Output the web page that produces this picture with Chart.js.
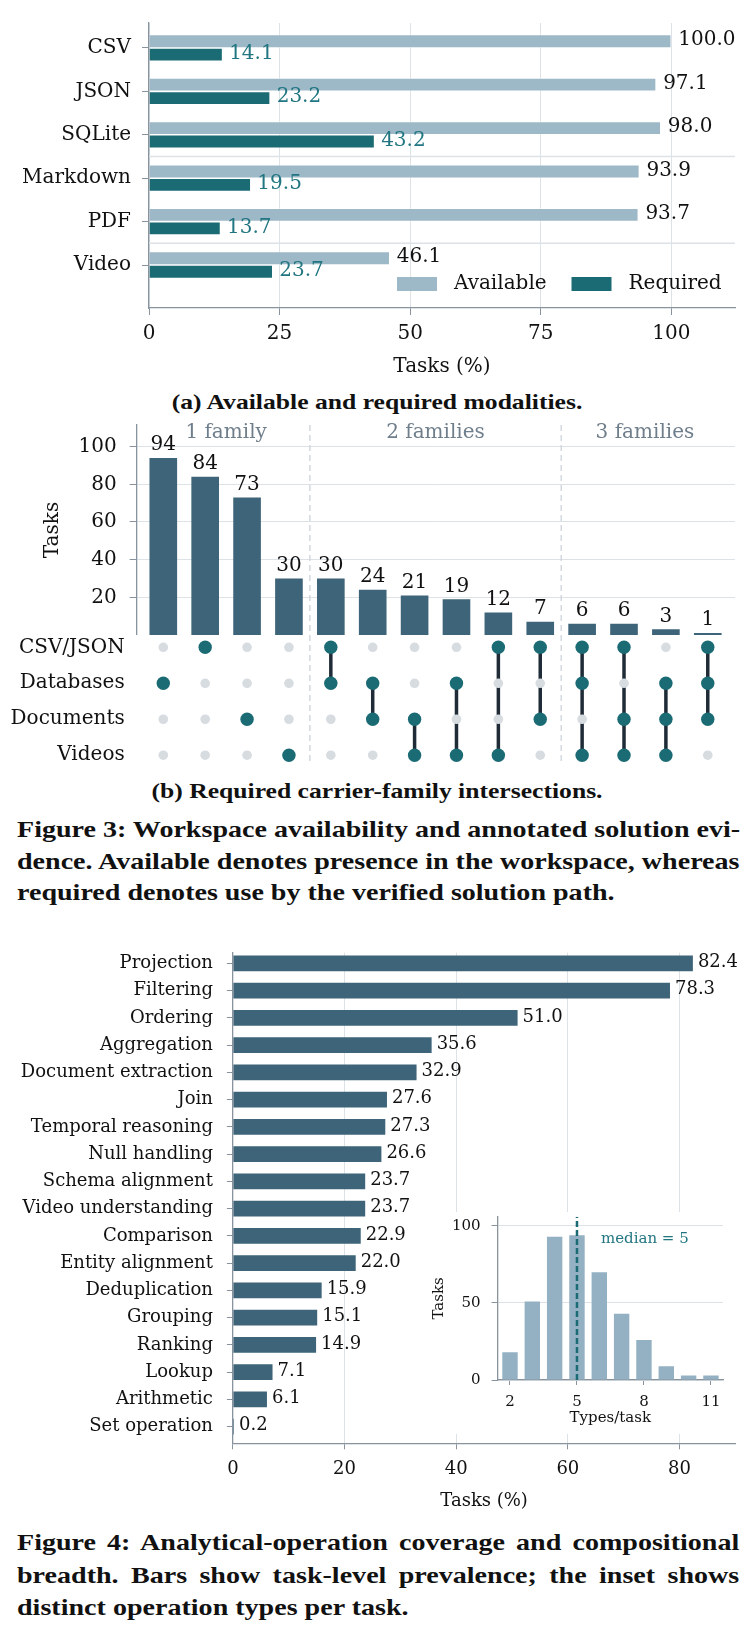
<!DOCTYPE html>
<html>
<head>
<meta charset="utf-8">
<script src="https://cdn.jsdelivr.net/npm/chart.js@4.4.1/dist/chart.umd.min.js"></script>
<style>
body { margin: 0; background: #fff; }
#page { position: relative; width: 754px; height: 1634px; overflow: hidden; background: #fff; }
canvas { position: absolute; }
.cap { position: absolute; font-family: "Liberation Serif", serif; font-weight: bold; color: #111; }
.sub { left: 0; width: 754px; text-align: center; font-size: 21px; transform: scaleX(1.22); transform-origin: 377px 0; }
.main { left: 17px; width: 592px; font-size: 23px; transform: scaleX(1.22); transform-origin: 0 0; }
.line { white-space: nowrap; text-align: justify; text-align-last: justify; }
.line.last { text-align-last: left; }
</style>
</head>
<body>
<div id="page">
  <canvas id="modal" width="754" height="380" style="left:0;top:0"></canvas>
  <div class="cap sub" style="top:390px">(a) Available and required modalities.</div>
  <canvas id="upset" width="754" height="235" style="left:0;top:400px"></canvas>
  <canvas id="matrix" width="754" height="130" style="left:0;top:635px"></canvas>
  <div class="cap sub" style="top:779px">(b) Required carrier-family intersections.</div>
  <div class="cap main" style="top:814px;line-height:31.6px">
    <div class="line">Figure 3: Workspace availability and annotated solution evi-</div>
    <div class="line">dence. Available denotes presence in the workspace, whereas</div>
    <div class="line last">required denotes use by the verified solution path.</div>
  </div>
  <canvas id="ops" width="754" height="575" style="left:0;top:940px"></canvas>
  <canvas id="inset" width="305" height="222" style="left:430px;top:1212px;background:#fff"></canvas>
  <div class="cap main" style="top:1527px;line-height:32.6px">
    <div class="line">Figure 4: Analytical-operation coverage and compositional</div>
    <div class="line">breadth. Bars show task-level prevalence; the inset shows</div>
    <div class="line last">distinct operation types per task.</div>
  </div>
</div>
<script>
// ---- data ----
const modalities = ['CSV', 'JSON', 'SQLite', 'Markdown', 'PDF', 'Video'];
const modalityFamily = ['structured', 'structured', 'structured', 'document', 'document', 'video'];
const availablePct = [100.0, 97.1, 98.0, 93.9, 93.7, 46.1];
const requiredPct = [14.1, 23.2, 43.2, 19.5, 13.7, 23.7];

const families = ['CSV/JSON', 'Databases', 'Documents', 'Videos'];
const intersectionCounts = [94, 84, 73, 30, 30, 24, 21, 19, 12, 7, 6, 6, 3, 1];
// indexes into families for each intersection column
const intersectionMembers = [[1], [0], [2], [3], [0, 1], [1, 2], [2, 3], [1, 3], [0, 3], [0, 2], [0, 1, 3], [0, 2, 3], [1, 2, 3], [0, 1, 2]];
const groupNames = ['1 family', '2 families', '3 families'];

const operations = ['Projection', 'Filtering', 'Ordering', 'Aggregation', 'Document extraction', 'Join',
  'Temporal reasoning', 'Null handling', 'Schema alignment', 'Video understanding', 'Comparison',
  'Entity alignment', 'Deduplication', 'Grouping', 'Ranking', 'Lookup', 'Arithmetic', 'Set operation'];
const operationPct = [82.4, 78.3, 51.0, 35.6, 32.9, 27.6, 27.3, 26.6, 23.7, 23.7, 22.9, 22.0, 15.9, 15.1, 14.9, 7.1, 6.1, 0.2];

const typesPerTask = [2, 3, 4, 5, 6, 7, 8, 9, 10, 11];
const typesCounts = [18, 51, 93, 94, 70, 43, 26, 9, 3, 3];
const medianTypes = 5;

// ---- colours ----
const LIGHT = '#9db8c7';
const TEAL = '#1a6b74';
const TEAL_TXT = '#217681';
const SLATE = '#3e6479';
const INSET_BAR = '#93b1c3';
const GRID = '#dde2e7';
const AXIS = '#88939d';
const DOT_GRAY = '#d7dce1';
const LINK = '#1f2c37';
const GROUP_TXT = '#6f7e8b';
const FONT = "'DejaVu Serif', serif";

Chart.defaults.font.family = FONT;
Chart.defaults.color = '#111';
Chart.defaults.animation = false;
Chart.defaults.responsive = false;
Chart.defaults.devicePixelRatio = 1;
Chart.defaults.layout.autoPadding = false;
Chart.defaults.plugins.legend.display = false;
Chart.defaults.plugins.tooltip.enabled = false;

// fixed axis sizes so the plot areas line up with the figure
function fixWidth(w) {
  return s => { s.width = w; s.paddingTop = 0; s.paddingBottom = 0; };
}
function fixHeight(h) {
  return s => { s.height = h; s.paddingLeft = 0; s.paddingRight = 0; };
}

// draws value text next to bars
const valueLabels = {
  id: 'valueLabels',
  afterDatasetsDraw(chart, args, opts) {
    const ctx = chart.ctx;
    ctx.save();
    (opts.items || []).forEach(it => {
      const meta = chart.getDatasetMeta(it.dataset);
      const vals = it.values;
      ctx.font = it.font;
      ctx.fillStyle = it.color;
      ctx.textAlign = it.align;
      ctx.textBaseline = it.baseline;
      meta.data.forEach((el, i) => {
        ctx.fillText(it.format(vals[i]), el.x + it.dx, el.y + it.dy);
      });
    });
    ctx.restore();
  }
};

// dashed lines between the family groups
function groupBounds() {
  let b = [];
  for (let i = 1; i < intersectionMembers.length; i++) {
    if (intersectionMembers[i].length !== intersectionMembers[i - 1].length) b.push(i - 0.5);
  }
  return b;
}
const separators = {
  id: 'separators',
  beforeDatasetsDraw(chart) {
    const {ctx, chartArea: a, scales: {x}} = chart;
    ctx.save();
    ctx.strokeStyle = '#ccd3da';
    ctx.lineWidth = 1.3;
    ctx.setLineDash([6, 4]);
    groupBounds().forEach(v => {
      const px = x.getPixelForValue(v);
      ctx.beginPath();
      ctx.moveTo(px, a.top);
      ctx.lineTo(px, a.bottom);
      ctx.stroke();
    });
    ctx.restore();
  }
};

// ---------- (a) modalities ----------
new Chart(document.getElementById('modal'), {
  type: 'bar',
  data: {
    datasets: [
      {label: 'Available', data: availablePct.map((v, i) => ({x: v, y: i})), backgroundColor: LIGHT, borderColor: 'rgba(255,255,255,0.7)', borderWidth: 0.8},
      {label: 'Required', data: requiredPct.map((v, i) => ({x: v, y: i})), backgroundColor: TEAL, borderColor: 'rgba(255,255,255,0.7)', borderWidth: 0.8}
    ]
  },
  options: {
    indexAxis: 'y',
    layout: {padding: {left: 0, right: 19, top: 23, bottom: 0}},
    datasets: {bar: {categoryPercentage: 0.62, barPercentage: 1}},
    plugins: {
      valueLabels: {items: [
        {dataset: 0, values: availablePct, format: v => v.toFixed(1), font: '20px ' + FONT, color: '#111', align: 'left', baseline: 'middle', dx: 7, dy: -1},
        {dataset: 1, values: requiredPct, format: v => v.toFixed(1), font: '20px ' + FONT, color: TEAL_TXT, align: 'left', baseline: 'middle', dx: 6.5, dy: -1}
      ]}
    },
    scales: {
      x: {
        type: 'linear', min: 0, max: 112.2,
        ticks: {stepSize: 25, includeBounds: false, padding: 7, font: {size: 20}, color: '#111', maxRotation: 0},
        grid: {color: GRID, tickColor: AXIS, tickLength: 7},
        border: {color: AXIS, width: 1.3},
        title: {display: true, text: 'Tasks (%)', font: {size: 20}, color: '#111', padding: {top: 0, bottom: 1}},
        afterFit: fixHeight(72)
      },
      y: {
        type: 'linear', reverse: true, min: -0.575, max: 5.99, offset: false,
        afterBuildTicks: s => { s.ticks = modalities.map((m, i) => ({value: i})); },
        ticks: {callback: v => modalities[v], padding: 11, font: {size: 20}, color: '#111', autoSkip: false},
        grid: {drawOnChartArea: false, offset: false, tickColor: AXIS, tickLength: 7},
        border: {color: AXIS, width: 1.3},
        afterFit: fixWidth(149)
      }
    }
  },
  plugins: [valueLabels, {
    id: 'familyRules',
    beforeDatasetsDraw(chart) {
      const {ctx, chartArea: a, scales: {y}} = chart;
      ctx.save();
      ctx.strokeStyle = GRID;
      ctx.lineWidth = 1.5;
      for (let i = 1; i < modalityFamily.length; i++) {
        if (modalityFamily[i] === modalityFamily[i - 1]) continue;
        const py = y.getPixelForValue(i - 0.5);
        ctx.beginPath();
        ctx.moveTo(a.left, py);
        ctx.lineTo(a.right, py);
        ctx.stroke();
      }
      ctx.restore();
    }
  }, {
    id: 'modalLegend',
    afterDraw(chart) {
      const {ctx, chartArea: a} = chart;
      let x = a.right - 338;
      const y = a.bottom - 24;
      ctx.save();
      ctx.font = '20px ' + FONT;
      ctx.textBaseline = 'middle';
      chart.data.datasets.forEach(ds => {
        ctx.fillStyle = ds.backgroundColor;
        ctx.fillRect(x, y - 7, 40, 14);
        ctx.fillStyle = '#111';
        ctx.fillText(ds.label, x + 57, y);
        x += 174.5;
      });
      ctx.restore();
    }
  }]
});

// ---------- (b) intersections: bars ----------
new Chart(document.getElementById('upset'), {
  type: 'bar',
  data: {
    datasets: [{data: intersectionCounts.map((v, i) => ({x: i, y: v})), backgroundColor: SLATE}]
  },
  options: {
    layout: {padding: {left: 0, right: 19, top: 25, bottom: 0}},
    datasets: {bar: {categoryPercentage: 1, barPercentage: 0.66}},
    plugins: {
      valueLabels: {items: [
        {dataset: 0, values: intersectionCounts, format: v => String(v), font: '20px ' + FONT, color: '#111', align: 'center', baseline: 'alphabetic', dx: 0, dy: -7.7}
      ]}
    },
    scales: {
      x: {type: 'linear', display: false, min: -0.635, max: 13.65, offset: false, ticks: {stepSize: 1}, grid: {offset: false}},
      y: {
        min: 0, max: 111.5,
        afterBuildTicks: s => { s.ticks = s.ticks.filter(t => t.value > 0); },
        ticks: {stepSize: 20, includeBounds: false, padding: 13, font: {size: 20}, color: '#111'},
        grid: {color: GRID, tickColor: AXIS, tickLength: 7},
        border: {color: AXIS, width: 1.3},
        title: {display: true, text: 'Tasks', font: {size: 20}, color: '#111', padding: {top: 41, bottom: 0}},
        afterFit: fixWidth(136.7)
      }
    }
  },
  plugins: [valueLabels, separators, {
    id: 'groupNames',
    afterDraw(chart) {
      const {ctx, chartArea: a, scales: {x}} = chart;
      ctx.save();
      ctx.font = '20px ' + FONT;
      ctx.fillStyle = GROUP_TXT;
      ctx.textAlign = 'center';
      ctx.textBaseline = 'middle';
      groupNames.forEach((g, k) => {
        const cols = intersectionMembers.map((m, i) => m.length === k + 1 ? i : -1).filter(i => i >= 0);
        const mid = (cols[0] + cols[cols.length - 1]) / 2;
        ctx.fillText(g, x.getPixelForValue(mid), a.top + 8);
      });
      ctx.restore();
    }
  }]
});

// ---------- (b) intersections: membership matrix ----------
const activeDots = [], inactiveDots = [], links = [];
intersectionMembers.forEach((m, i) => {
  families.forEach((f, r) => {
    (m.includes(r) ? activeDots : inactiveDots).push({x: i, y: r});
  });
  if (m.length > 1) {
    links.push({x: i, y: Math.min(...m)}, {x: i, y: Math.max(...m)}, {x: i, y: null});
  }
});

new Chart(document.getElementById('matrix'), {
  type: 'scatter',
  data: {
    datasets: [
      {data: links, showLine: true, spanGaps: false, borderColor: LINK, borderWidth: 3.5, pointRadius: 0, order: 3, clip: false},
      {data: inactiveDots, pointRadius: 4.8, backgroundColor: DOT_GRAY, borderWidth: 0, order: 2, clip: false},
      {data: activeDots, pointRadius: 6.7, backgroundColor: TEAL, borderWidth: 0, order: 1, clip: false}
    ]
  },
  options: {
    layout: {padding: {left: 0, right: 19, top: 0, bottom: 3.3}},
    scales: {
      x: {type: 'linear', display: false, min: -0.635, max: 13.65, offset: false},
      y: {
        type: 'linear', reverse: true, min: -0.342, max: 3.18, offset: false,
        afterBuildTicks: s => { s.ticks = families.map((f, i) => ({value: i})); },
        ticks: {callback: v => families[v], padding: 12, font: {size: 20}, color: '#111', autoSkip: false},
        grid: {display: false, drawTicks: false},
        border: {display: false},
        afterFit: fixWidth(136.7)
      }
    }
  },
  plugins: [separators]
});

// ---------- Figure 4: operations ----------
new Chart(document.getElementById('ops'), {
  type: 'bar',
  data: {
    datasets: [{data: operationPct.map((v, i) => ({x: v, y: i})), backgroundColor: SLATE}]
  },
  options: {
    indexAxis: 'y',
    layout: {padding: {left: 0, right: 18.7, top: 12.7, bottom: 0}},
    datasets: {bar: {categoryPercentage: 1, barPercentage: 0.576}},
    plugins: {
      valueLabels: {items: [
        {dataset: 0, values: operationPct, format: v => v.toFixed(1), font: '18px ' + FONT, color: '#111', align: 'left', baseline: 'middle', dx: 5, dy: -1}
      ]}
    },
    scales: {
      x: {
        type: 'linear', min: 0, max: 90,
        ticks: {stepSize: 20, includeBounds: false, padding: 9, font: {size: 18}, color: '#111', maxRotation: 0},
        grid: {color: GRID, tickColor: AXIS, tickLength: 6},
        border: {color: AXIS, width: 1.3},
        title: {display: true, text: 'Tasks (%)', font: {size: 18}, color: '#111', padding: {top: 0, bottom: 2.5}},
        afterFit: fixHeight(71.7)
      },
      y: {
        type: 'linear', reverse: true, min: -0.39, max: 17.61, offset: false,
        afterBuildTicks: s => { s.ticks = operations.map((o, i) => ({value: i})); },
        ticks: {callback: v => operations[v], padding: 14, font: {size: 18}, color: '#111', autoSkip: false},
        grid: {drawOnChartArea: false, offset: false, tickColor: AXIS, tickLength: 6},
        border: {color: AXIS, width: 1.3},
        afterFit: fixWidth(232.9)
      }
    }
  },
  plugins: [valueLabels]
});

// ---------- Figure 4 inset: types per task ----------
const insetMax = 106;
new Chart(document.getElementById('inset'), {
  type: 'bar',
  data: {
    datasets: [
      {type: 'line', data: [{x: medianTypes, y: 0}, {x: medianTypes, y: insetMax}], borderColor: TEAL, borderWidth: 2.5, borderDash: [6, 3], pointRadius: 0, order: 0},
      {data: typesPerTask.map((t, i) => ({x: t, y: typesCounts[i]})), backgroundColor: INSET_BAR, order: 1}
    ]
  },
  options: {
    layout: {padding: {left: 0, right: 12, top: 4.7, bottom: 0}},
    datasets: {bar: {categoryPercentage: 1, barPercentage: 0.69}},
    scales: {
      x: {
        type: 'linear', min: 1.445, max: 11.54, offset: false,
        afterBuildTicks: s => { s.ticks = typesPerTask.filter((t, i) => i % 3 === 0).map(t => ({value: t})); },
        ticks: {padding: 8, font: {size: 15}, color: '#111', maxRotation: 0},
        grid: {drawOnChartArea: false, offset: false, tickColor: AXIS, tickLength: 5},
        border: {color: AXIS, width: 1.3},
        title: {display: true, text: 'Types/task', font: {size: 15}, color: '#111', padding: {top: 0, bottom: 6.7}},
        afterFit: fixHeight(54)
      },
      y: {
        min: 0, max: insetMax,
        ticks: {stepSize: 50, includeBounds: false, padding: 11, font: {size: 15}, color: '#111'},
        grid: {color: GRID, tickColor: AXIS, tickLength: 6},
        border: {color: AXIS, width: 1.3},
        title: {display: true, text: 'Tasks', font: {size: 15}, color: '#111', padding: {top: 0, bottom: 0}},
        afterFit: fixWidth(67.6)
      }
    }
  },
  plugins: [{
    id: 'medianLabel',
    afterDraw(chart) {
      const {ctx, chartArea: a, scales: {x}} = chart;
      ctx.save();
      ctx.font = '15px ' + FONT;
      ctx.fillStyle = TEAL_TXT;
      ctx.textBaseline = 'middle';
      ctx.fillText('median = ' + medianTypes, x.getPixelForValue(medianTypes) + 24, a.top + 22);
      ctx.restore();
    }
  }]
});
</script>
</body>
</html>
